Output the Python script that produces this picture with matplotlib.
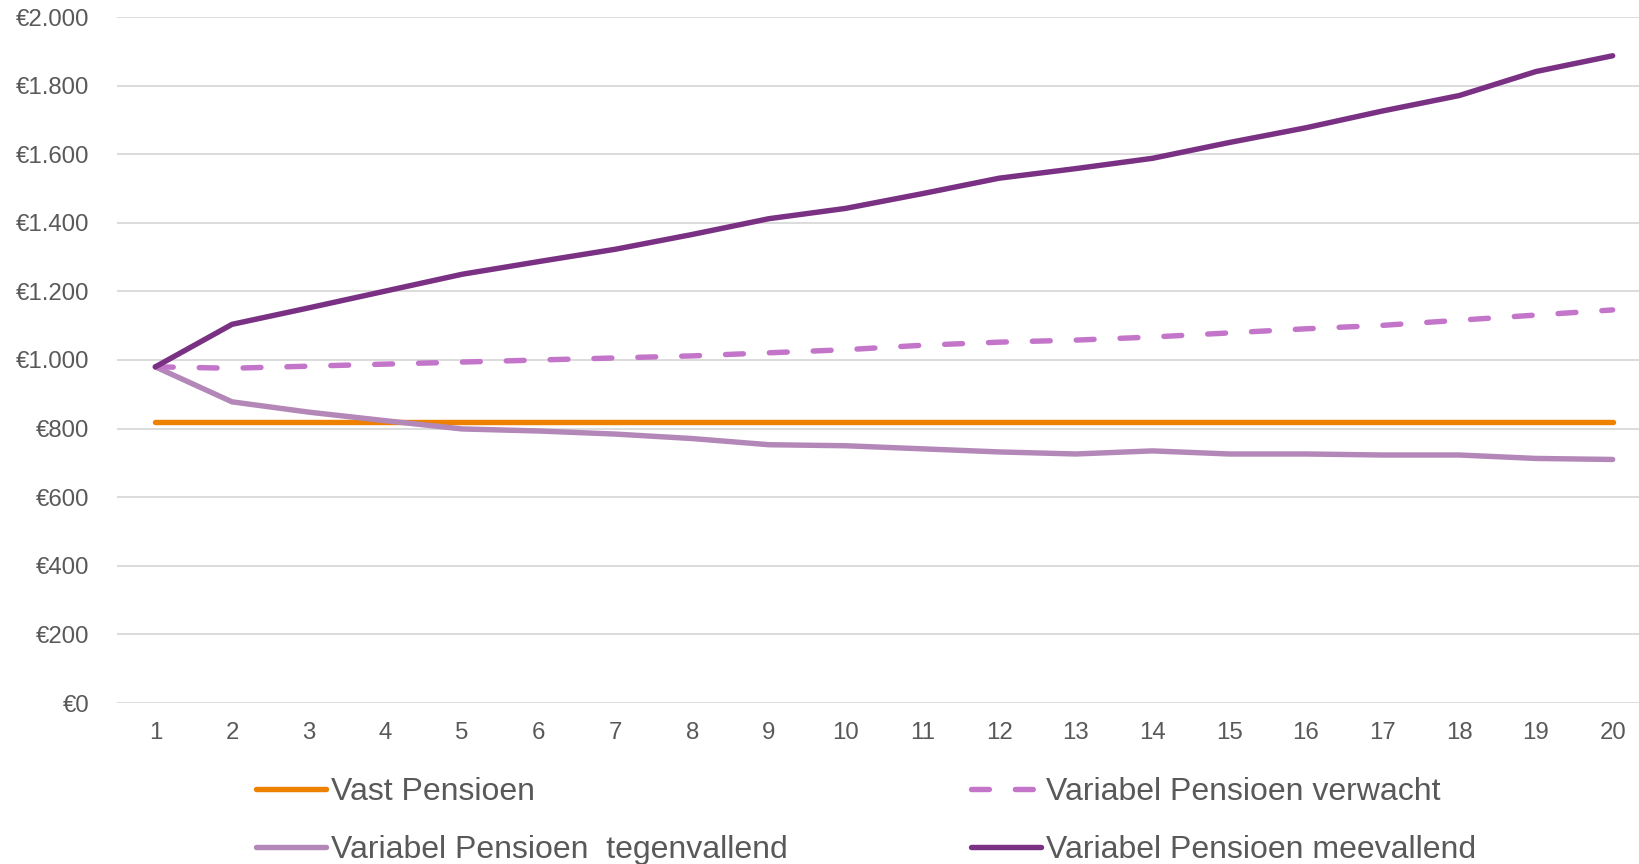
import matplotlib
matplotlib.use("Agg")
import matplotlib.pyplot as plt
from matplotlib.ticker import FuncFormatter

plt.rcParams['font.family'] = ['Liberation Sans', 'DejaVu Sans']

years = list(range(1, 21))
vast = [820] * 20
verwacht = [980, 976, 982, 988, 994, 1000, 1006, 1012, 1021, 1030,
            1043, 1052, 1058, 1067, 1079, 1091, 1101, 1116, 1131, 1146]
tegenvallend = [980, 878, 848, 823, 799, 793, 784, 771, 753, 750,
                741, 732, 726, 735, 726, 726, 723, 723, 713, 710]
meevallend = [980, 1104, 1152, 1201, 1250, 1287, 1323, 1366, 1412, 1442,
              1485, 1530, 1558, 1588, 1634, 1677, 1726, 1771, 1841, 1887]
yticks = [0, 200, 400, 600, 800, 1000, 1200, 1400, 1600, 1800, 2000]

labels = ["Vast Pensioen", "Variabel Pensioen verwacht",
          "Variabel Pensioen  tegenvallend", "Variabel Pensioen meevallend"]
colors = ["#EE8100", "#C376C9", "#B387B8", "#7A3184"]

W, H = 1640, 864
fig = plt.figure(figsize=(W / 100, H / 100), dpi=100)
ax = fig.add_axes([117 / W, 1 - 703 / H, (W - 117) / W, (703 - 17) / H])

lw = 3.9
l_vast, = ax.plot(years, vast, color=colors[0], lw=lw, solid_capstyle='round', zorder=3)
l_tegen, = ax.plot(years, tegenvallend, color=colors[2], lw=lw, solid_capstyle='round',
                   solid_joinstyle='round', zorder=4)
l_verw, = ax.plot(years, verwacht, color=colors[1], lw=lw, dashes=(3.3, 4.8),
                  dash_capstyle='round', zorder=5)
l_mee, = ax.plot(years, meevallend, color=colors[3], lw=lw, solid_capstyle='round',
                 solid_joinstyle='round', zorder=6)

ax.set_xlim(0.5, 0.5 + (W - 117) / 76.7)
ax.set_ylim(0, 2000)
ax.set_xticks(years)
ax.set_yticks(yticks)
ax.yaxis.set_major_formatter(FuncFormatter(lambda v, p: "€" + f"{int(v):,}".replace(",", ".")))
ax.grid(axis='y', color='#D9D9D9', lw=1.3, zorder=0)
ax.set_axisbelow(True)
for s in ax.spines.values():
    s.set_visible(False)
ax.tick_params(axis='both', length=0, labelsize=17.3, colors='#595959')
ax.tick_params(axis='y', pad=20)
ax.tick_params(axis='x', pad=14)

common = dict(frameon=False, fontsize=23.0, handlelength=2.2, handletextpad=0.15,
              labelspacing=0.86, borderpad=0, borderaxespad=0, loc='center left',
              labelcolor='#595959')
leg1 = fig.legend([l_vast, l_tegen], [labels[0], labels[2]],
                  bbox_to_anchor=(256 / W, 1 - 821 / H), **common)
leg2 = fig.legend([l_verw, l_mee], [labels[1], labels[3]],
                  bbox_to_anchor=(971 / W, 1 - 821 / H), **common)

fig.savefig("out.png", dpi=100)
